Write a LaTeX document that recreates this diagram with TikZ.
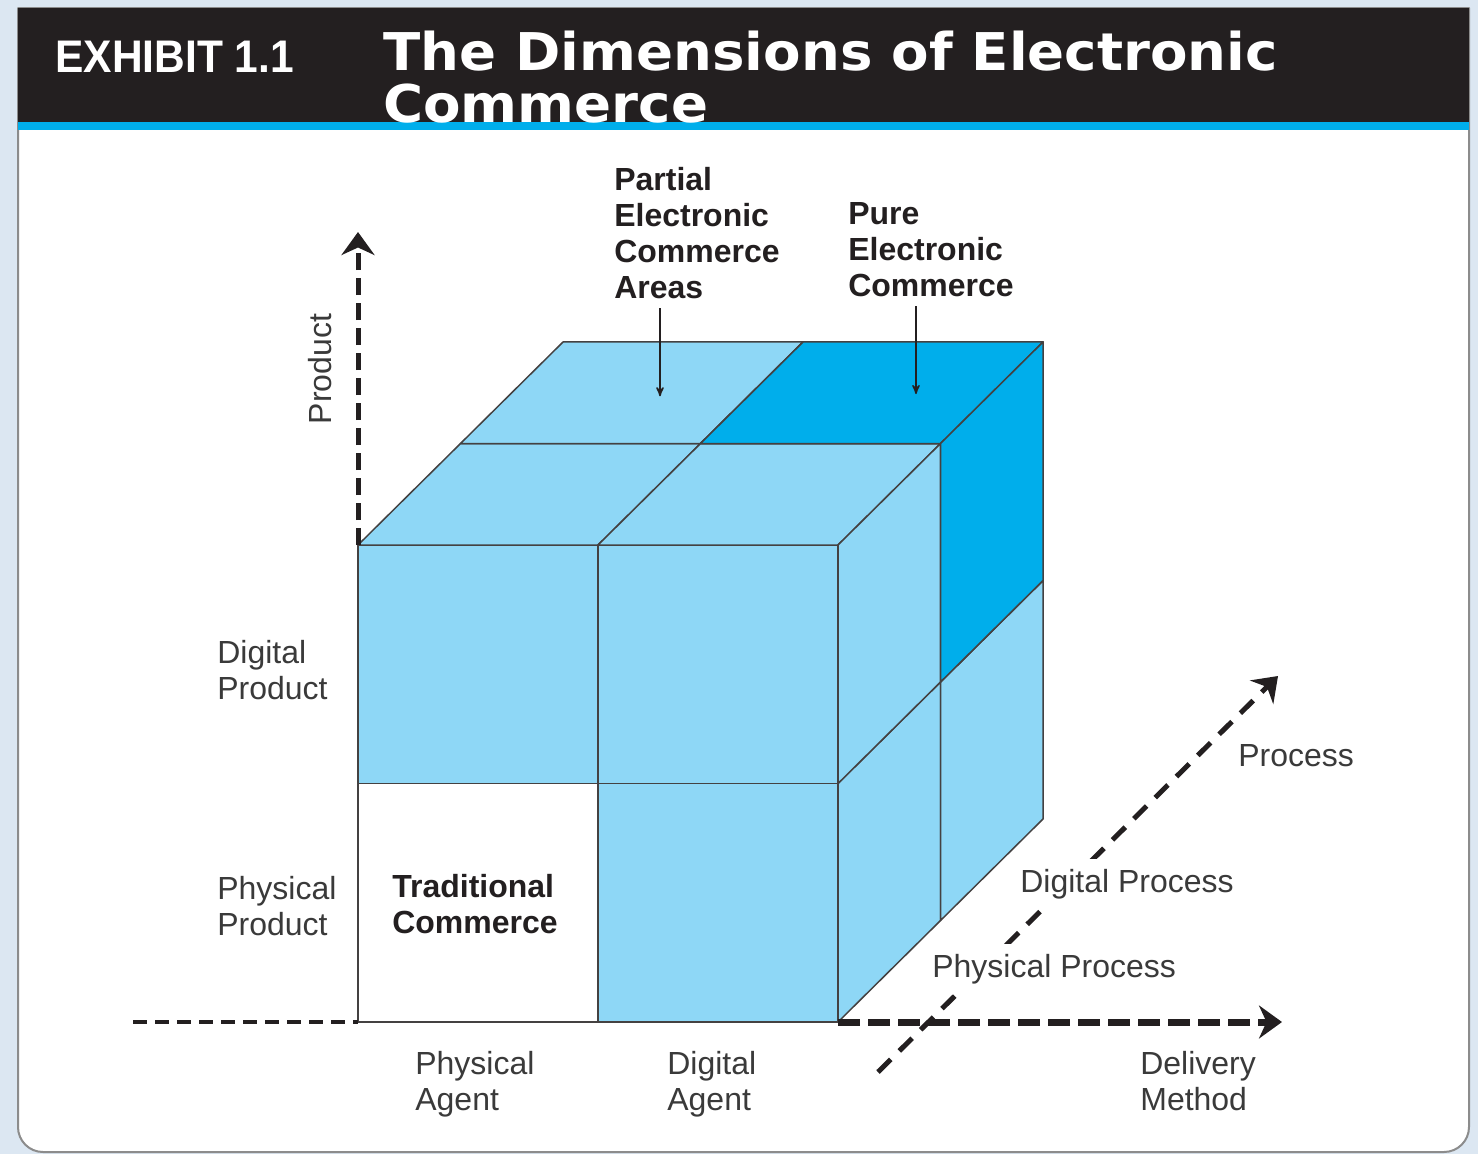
\documentclass[tikz,border=0pt]{standalone}
\usepackage{fontspec}
\setmainfont{Liberation Sans}
\newfontfamily\titlefont[FakeStretch=1.05]{DejaVu Sans}
\newfontfamily\exhibitfont[FakeStretch=0.93]{Liberation Sans}
\usetikzlibrary{arrows,arrows.meta,calc}
\definecolor{ltblue}{HTML}{8ED7F6}
\definecolor{dkblue}{HTML}{00AEEB}
\definecolor{barblack}{HTML}{231F20}
\definecolor{txtgray}{HTML}{3A3A3A}
\definecolor{pagebg}{HTML}{DCE7F2}

\begin{document}
\begin{tikzpicture}[x=0.2mm,y=-0.2mm,>=stealth',line join=round]
  \tikzstyle{dimtext}=[anchor=north west,inner sep=0pt,align=left,text=txtgray,
                       font=\fontsize{18.2}{20.5}\selectfont]
  \tikzstyle{dimbold}=[dimtext,text=barblack,font=\fontsize{18.2}{20.5}\selectfont\bfseries]
  \tikzstyle{cubeface}=[draw=barblack!85,line width=0.3mm,fill=ltblue]
  \tikzstyle{dimaxis}=[-{Stealth[length=4.6mm,width=6.6mm,inset=1.5mm]},draw=barblack,
                       line width=1mm,dash pattern=on 3.4mm off 1.6mm]
  \tikzstyle{pointer}=[->,draw=barblack,line width=0.3mm]

  % page and header
  \fill[pagebg] (0,0) rectangle (1478,1154);
  \useasboundingbox (0,0) rectangle (1478,1154);
  \draw[fill=white,draw=black!45,line width=0.4mm] (18,8) -- (1469,8)
      [rounded corners=5mm] -- (1469,1152) -- (18,1152) [sharp corners] -- cycle;
  \fill[barblack] (18,8) rectangle (1469,122);
  \fill[dkblue] (18,122) rectangle (1469,130);
  \node[anchor=base west,inner sep=0pt,text=white,
        font=\exhibitfont\bfseries\fontsize{26}{26}\selectfont] (exhibit) at (55,72) {EXHIBIT 1.1};
  \node[anchor=north west,inner sep=0pt,text=white,align=left,
        font=\titlefont\bfseries\fontsize{29.6}{29.6}\selectfont] (title) at (383,31)
        {The Dimensions of Electronic\\Commerce};

  % the cube
  \begin{scope}[shift={(358,1022)},x={(48mm,0mm)},y={(0mm,47.7mm)},z={(20.5mm,20.3mm)}]
    \filldraw[cubeface,fill=white] (0,0,0) rectangle (1,1,0);
    \filldraw[cubeface] (1,0,0) rectangle (2,1,0);
    \filldraw[cubeface] (0,1,0) rectangle (1,2,0);
    \filldraw[cubeface] (1,1,0) rectangle (2,2,0);
    \foreach \i in {0,1}
      \foreach \k in {0,1}
        \filldraw[cubeface] (\i,2,\k) -- ++(1,0,0) -- ++(0,0,1) -- ++(-1,0,0) -- cycle;
    \foreach \j in {0,1}
      \foreach \k in {0,1}
        \filldraw[cubeface] (2,\j,\k) -- ++(0,1,0) -- ++(0,0,1) -- ++(0,-1,0) -- cycle;
    \filldraw[cubeface,fill=dkblue] (1,2,1) -- ++(1,0,0) -- ++(0,0,1) -- ++(-1,0,0) -- cycle;
    \filldraw[cubeface,fill=dkblue] (2,1,1) -- ++(0,1,0) -- ++(0,0,1) -- ++(0,-1,0) -- cycle;
  \end{scope}

  % axes
  \coordinate (orig) at (358,1022);
  \coordinate (prodstart) at (358,545);
  \coordinate (prodend) at (358,232);
  \coordinate (leftend) at (133,1022);
  \coordinate (delstart) at (838,1022);
  \coordinate (delend) at (1282,1022);
  \coordinate (procstart) at (878,1072);
  \coordinate (procend) at (1278,676);

  \draw[dimaxis] (prodstart) -- (prodend);
  \draw[dimaxis,-,line width=0.8mm,dash pattern=on 2.8mm off 1.6mm] (leftend) -- (orig);
  \draw[dimaxis,dash pattern=on 3.6mm off 2.4mm] (procstart) -- (procend);
  \draw[dimaxis,line width=1.4mm,dash pattern=on 4.4mm off 1.6mm] (delstart) -- (delend);

  % labels
  \node[dimbold] (partial) at (614,167) {Partial\\Electronic\\Commerce\\Areas};
  \node[dimbold] (pure) at (848,202) {Pure\\Electronic\\Commerce};
  \node[dimtext,anchor=center,rotate=90] (product) at (320,369) {Product};
  \node[dimtext] (digprod) at (217,640) {Digital\\Product};
  \node[dimtext] (physprod) at (217,876) {Physical\\Product};
  \node[dimbold] (trad) at (392,874) {Traditional\\Commerce};
  \node[dimtext] (physagent) at (415,1051) {Physical\\Agent};
  \node[dimtext] (digagent) at (667,1051) {Digital\\Agent};
  \node[dimtext] (delivery) at (1140,1051) {Delivery\\Method};
  \node[dimtext] (process) at (1238,744) {Process};
  \node[dimtext,fill=white,inner sep=2mm] (digproc) at (1010,859) {Digital Process};
  \node[dimtext,fill=white,inner sep=2mm] (physproc) at (922,944) {Physical Process};

  \draw[pointer] (partial.south west) ++(46,9) -- ++(0,88);
  \draw[pointer] (pure.south west) ++(68,9) -- ++(0,88);
\end{tikzpicture}
\end{document}
